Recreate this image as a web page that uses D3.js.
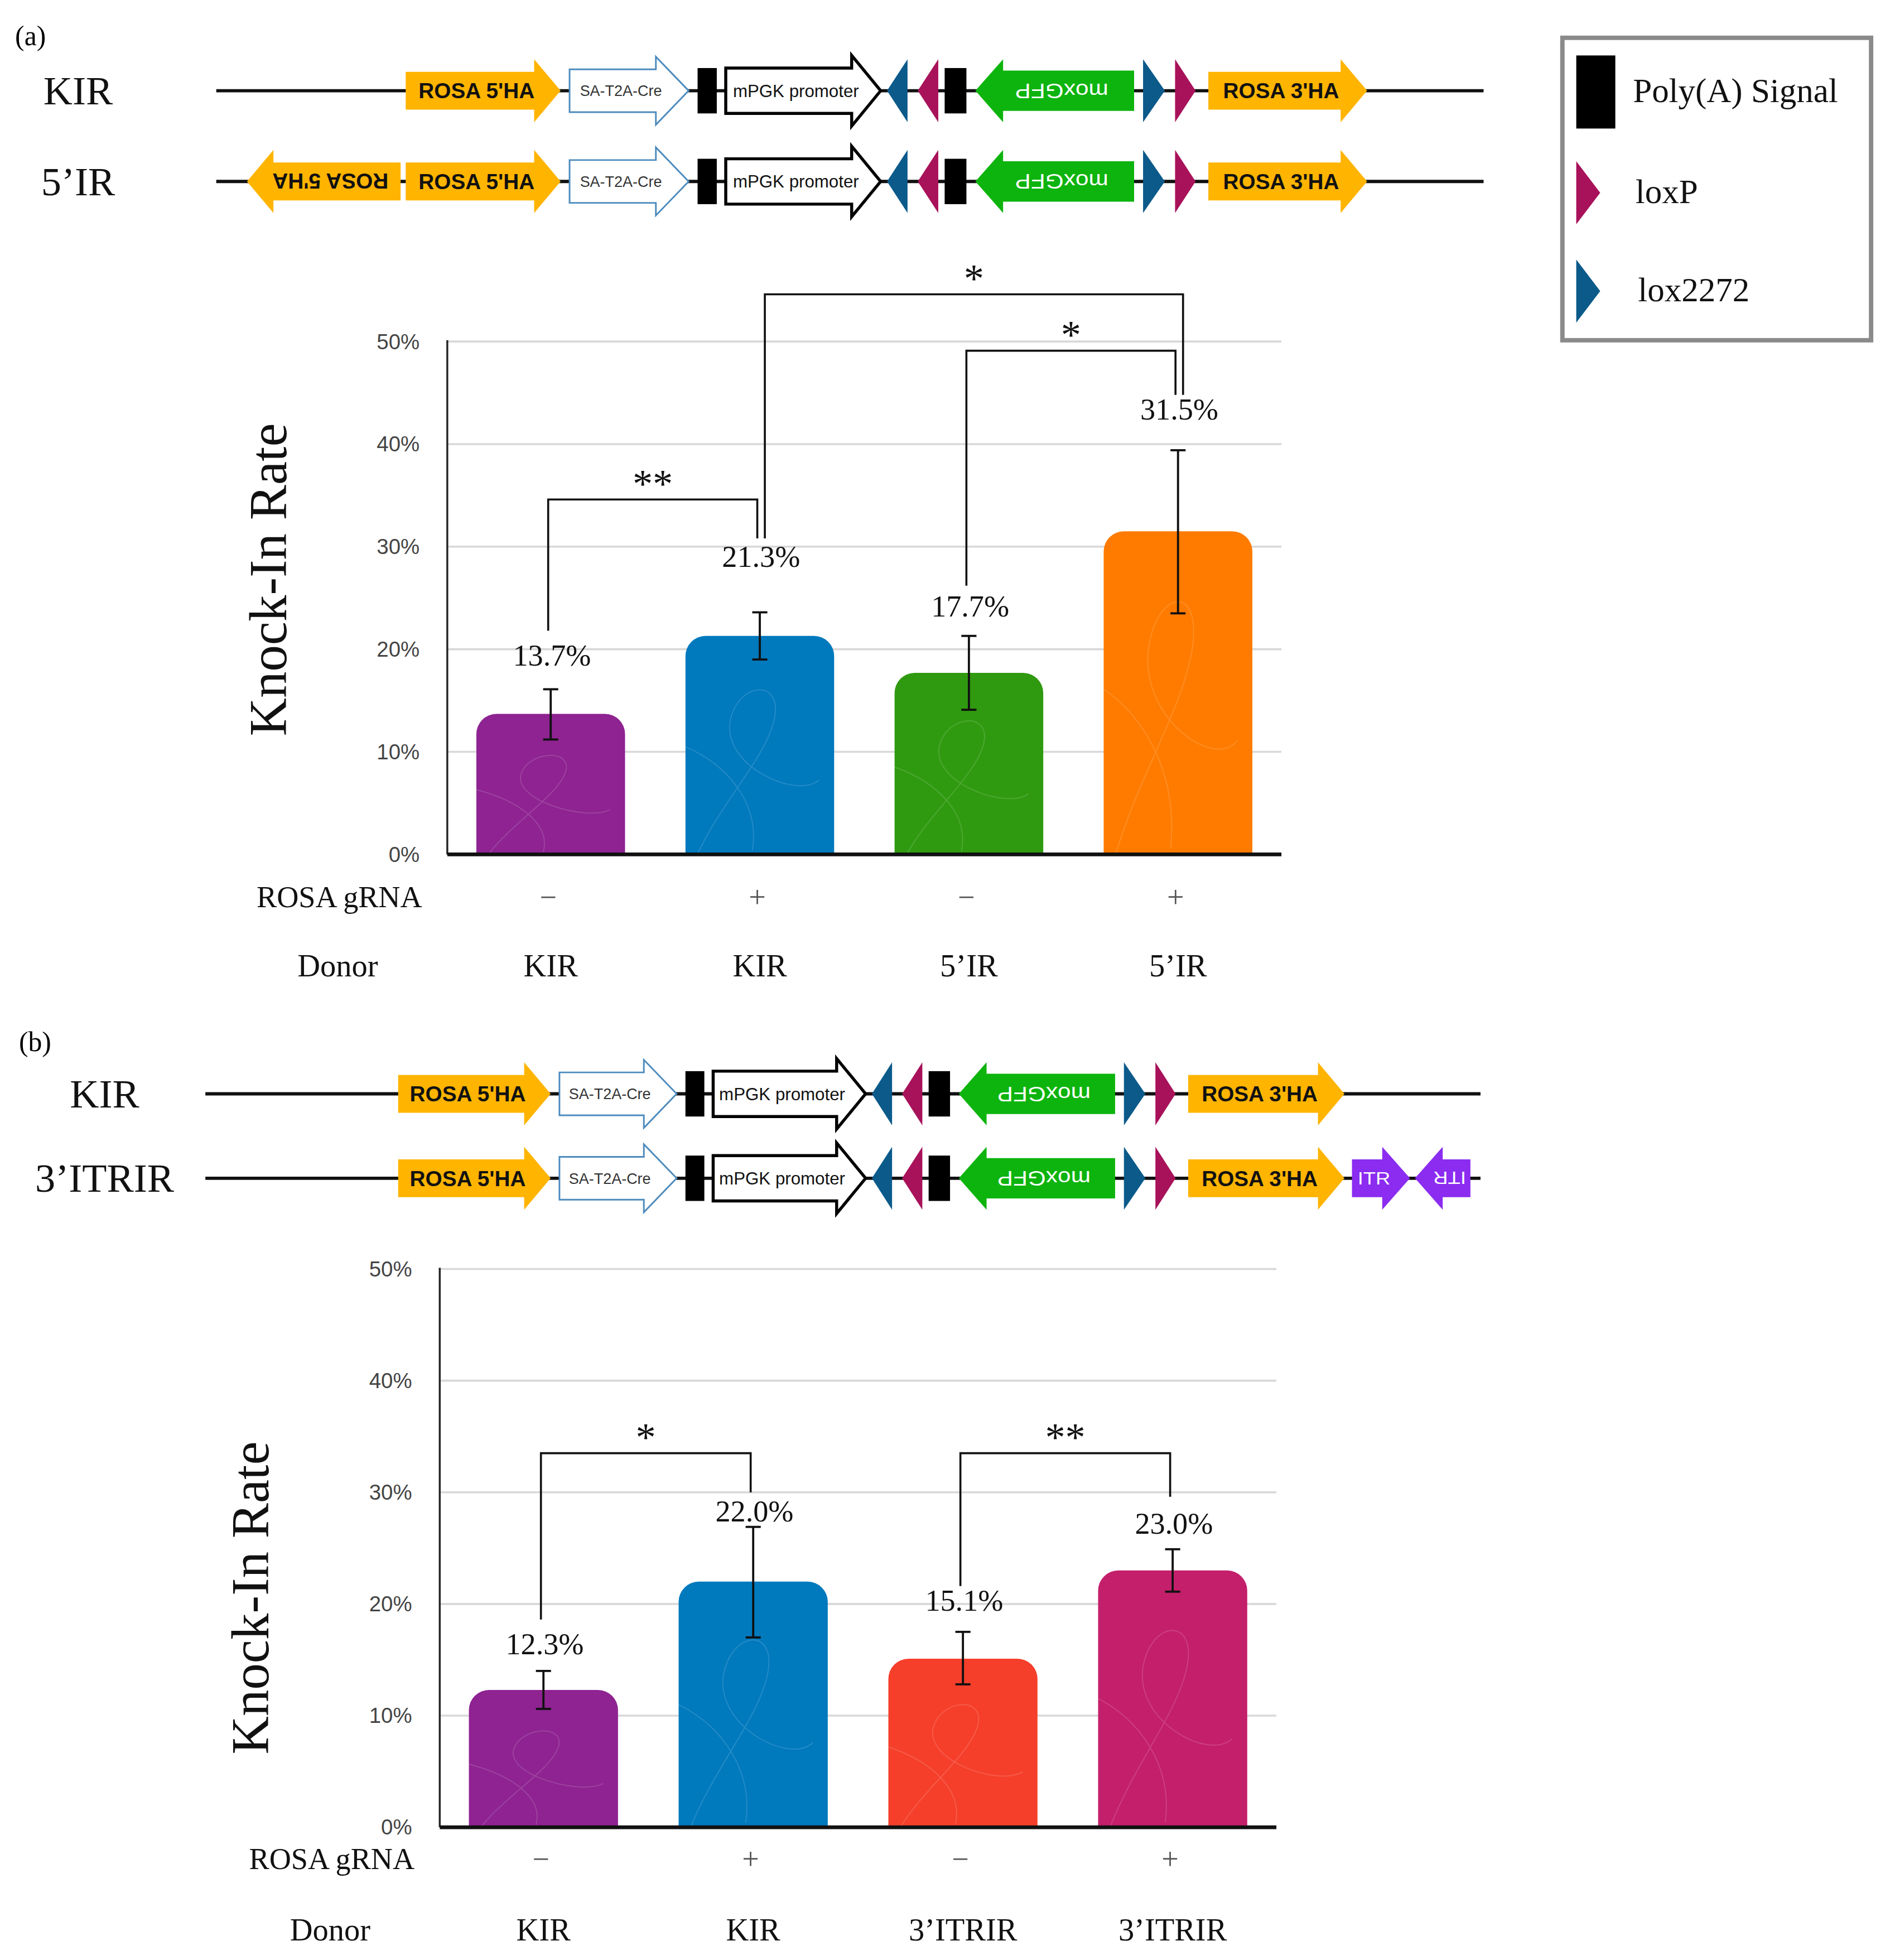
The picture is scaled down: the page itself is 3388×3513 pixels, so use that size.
<!DOCTYPE html>
<html>
<head>
<meta charset="utf-8">
<script src="https://cdn.jsdelivr.net/npm/d3@7"></script>
<style>
  html, body { margin: 0; padding: 0; background: #fff; }
</style>
</head>
<body>
<div id="fig"></div>
<script>
// drawing units: the page is laid out on a 1500-wide grid and scaled up to 3388px
const W = 1500, H = 3513 * 1500 / 3388;

// ---- bar chart data ----
const gRNA = ["−", "+", "−", "+"];
const yTicks = [0, 10, 20, 30, 40, 50];

const donorsA = ["KIR", "KIR", "5’IR", "5’IR"];
const valuesA = [13.7, 21.3, 17.7, 31.5];
const errLowA = [11.2, 19.0, 14.1, 23.5];
const errHighA = [16.1, 23.6, 21.3, 39.4];
const colorsA = ["#8e2391", "#0079bd", "#2f9a10", "#ff7b00"];
const labelLevelA = [19.4, 29.0, 24.2, 43.4];
const bracketsA = [
  {from: 0, to: 1, top: 34.6, left: 21.8, right: 30.8, mark: "**"},
  {from: 1, to: 3, top: 54.6, left: 30.8, right: 44.8, mark: "*"},
  {from: 2, to: 3, top: 49.1, left: 26.2, right: 44.8, mark: "*"}
];

const donorsB = ["KIR", "KIR", "3’ITRIR", "3’ITRIR"];
const valuesB = [12.3, 22.0, 15.1, 23.0];
const errLowB = [10.6, 17.0, 12.8, 21.1];
const errHighB = [14.0, 26.9, 17.5, 24.9];
const colorsB = ["#8e2391", "#0079bd", "#f53f2b", "#c41f6b"];
const labelLevelB = [16.4, 28.3, 20.3, 27.2];
const bracketsB = [
  {from: 0, to: 1, top: 33.5, left: 18.6, right: 30.0, mark: "*"},
  {from: 2, to: 3, top: 33.5, left: 21.6, right: 29.6, mark: "**"}
];

// ---- construct maps (map units) ----
const coreParts = [
  {kind: "ha", label: "ROSA 5'HA", s: 316, e: 437, dir: 1},
  {kind: "sa", label: "SA-T2A-Cre", s: 444, e: 537, dir: 1},
  {kind: "pa", s: 544, e: 559},
  {kind: "pgk", label: "mPGK promoter", s: 566, e: 687, dir: 1},
  {kind: "lox2272", s: 692, e: 708, dir: -1},
  {kind: "loxP", s: 716, e: 732, dir: -1},
  {kind: "pa", s: 737, e: 754},
  {kind: "gfp", label: "moxGFP", s: 761, e: 885, dir: -1},
  {kind: "lox2272", s: 892, e: 909, dir: 1},
  {kind: "loxP", s: 917, e: 933, dir: 1},
  {kind: "ha", label: "ROSA 3'HA", s: 943, e: 1067, dir: 1}
];
const inverted5HA = {kind: "ha", label: "ROSA 5'HA", s: 192, e: 312, dir: -1};
const itrPair = [
  {kind: "itr", label: "ITR", s: 1073, e: 1119, dir: 1},
  {kind: "itr", label: "ITR", s: 1123, e: 1167, dir: -1}
];
const rowsA = [
  {name: "KIR", parts: coreParts},
  {name: "5’IR", parts: [inverted5HA].concat(coreParts)}
];
const rowsB = [
  {name: "KIR", parts: coreParts},
  {name: "3’ITRIR", parts: coreParts.concat(itrPair)}
];
const legendItems = [
  {kind: "pa", label: "Poly(A) Signal"},
  {kind: "loxP", label: "loxP"},
  {kind: "lox2272", label: "lox2272"}
];

const SERIF = "'Liberation Serif', 'Times New Roman', serif";
const SANS = "'Liberation Sans', Arial, Helvetica, sans-serif";

const kinds = {
  ha: {fill: "#ffb400", bh: 15, hh: 25, head: 21, text: "#111", weight: "bold", size: 17, tw: 92},
  sa: {fill: "#fff", stroke: "#4d8bbd", sw: 1.3, bh: 17, hh: 27, head: 26, text: "#333", size: 12, tw: 65},
  pa: {fill: "#000", bh: 18},
  pgk: {fill: "#fff", stroke: "#000", sw: 2.4, bh: 18, hh: 28, head: 23, text: "#111", size: 13.5, tw: 100},
  lox2272: {fill: "#0b5a8a", hh: 25},
  loxP: {fill: "#a8125a", hh: 25},
  gfp: {fill: "#0db40d", bh: 16, hh: 25, head: 22, text: "#fff", size: 16, tw: 74},
  itr: {fill: "#8b2cf0", bh: 15, hh: 25, head: 22, text: "#fff", size: 14, tw: 26}
};

const svg = d3.select("#fig").append("svg")
  .attr("width", 3388)
  .attr("height", 3513)
  .attr("viewBox", `0 0 ${W} ${H}`)
  .style("display", "block");

svg.append("rect").attr("width", W).attr("height", H).attr("fill", "#fff");

function drawPart(g, p, xMap) {
  const k = kinds[p.kind];
  const s = xMap(p.s), e = xMap(p.e);
  if (p.kind === "pa") {
    g.append("rect").attr("x", s).attr("y", -k.bh).attr("width", e - s).attr("height", 2 * k.bh).attr("fill", k.fill);
    return;
  }
  if (p.kind === "loxP" || p.kind === "lox2272") {
    const pts = p.dir > 0 ? [[s, -k.hh], [e, 0], [s, k.hh]] : [[e, -k.hh], [s, 0], [e, k.hh]];
    g.append("polygon").attr("points", pts.join(" ")).attr("fill", k.fill);
    return;
  }
  let pts;
  if (p.dir > 0) {
    const h = e - k.head;
    pts = [[s, -k.bh], [h, -k.bh], [h, -k.hh], [e, 0], [h, k.hh], [h, k.bh], [s, k.bh]];
  } else {
    const h = s + k.head;
    pts = [[e, -k.bh], [h, -k.bh], [h, -k.hh], [s, 0], [h, k.hh], [h, k.bh], [e, k.bh]];
  }
  g.append("polygon").attr("points", pts.join(" "))
    .attr("fill", k.fill)
    .attr("stroke", k.stroke || "none")
    .attr("stroke-width", k.sw || 0)
    .attr("stroke-linejoin", "miter");
  const cx = (s + e) / 2 - p.dir * k.head * 0.25;
  const t = g.append("text")
    .attr("x", cx).attr("y", 0).attr("dy", "0.36em")
    .attr("text-anchor", "middle")
    .attr("font-family", SANS)
    .attr("font-size", k.size)
    .attr("font-weight", k.weight || "normal")
    .attr("fill", k.text)
    .attr("textLength", k.tw)
    .attr("lengthAdjust", "spacingAndGlyphs")
    .text(p.label);
  if (p.dir < 0) t.attr("transform", `rotate(180,${cx},0)`);
}

function drawConstruct(rows, xMap, rowY, lineSpan, labelX) {
  const g = svg.append("g");
  rows.forEach((row, i) => {
    const rg = g.append("g").attr("transform", `translate(0,${rowY[i]})`);
    rg.append("line")
      .attr("x1", xMap(lineSpan[0])).attr("x2", xMap(lineSpan[1]))
      .attr("stroke", "#111").attr("stroke-width", 2.6);
    rg.append("text")
      .attr("x", labelX).attr("y", 0).attr("dy", "0.34em")
      .attr("text-anchor", "middle")
      .attr("font-family", SERIF).attr("font-size", 32)
      .attr("fill", "#111")
      .text(row.name);
    row.parts.forEach(p => drawPart(rg, p, xMap));
  });
}

// faint decorative strokes inside bars, in unit coordinates of each bar
const scribble = "M0.08,1 C0.25,0.72 0.55,0.5 0.6,0.3 C0.65,0.1 0.35,0.12 0.3,0.32 C0.25,0.55 0.75,0.72 0.9,0.62 M0.0,0.45 C0.3,0.55 0.5,0.75 0.45,0.98";

function topRounded(x, y, w, h, r) {
  r = Math.min(r, h, w / 2);
  return `M${x},${y + h}V${y + r}A${r},${r} 0 0 1 ${x + r},${y}H${x + w - r}A${r},${r} 0 0 1 ${x + w},${y + r}V${y + h}Z`;
}

function drawChart(cfg) {
  const g = svg.append("g");
  const y = d3.scaleLinear().domain([0, 50]).range([cfg.y0, cfg.y50]);
  const x = d3.scaleBand().domain(d3.range(cfg.values.length))
    .range([cfg.x0, cfg.x1]).paddingInner(0.289).paddingOuter(0.139);
  const cxOf = i => x(i) + x.bandwidth() / 2;

  // grid
  g.append("g").selectAll("line").data(yTicks.filter(t => t > 0)).join("line")
    .attr("x1", cfg.x0).attr("x2", cfg.x1)
    .attr("y1", d => y(d)).attr("y2", d => y(d))
    .attr("stroke", "#d8d8d8").attr("stroke-width", 1.6);

  // tick labels
  const ax = g.append("g").attr("transform", `translate(${cfg.x0},0)`)
    .call(d3.axisLeft(y).tickValues(yTicks).tickFormat(d => d + "%").tickSize(0).tickPadding(22));
  ax.select(".domain").remove();
  ax.selectAll("text").attr("font-family", SANS).attr("font-size", 17).attr("fill", "#444");

  // bars
  const bars = g.append("g").selectAll("g").data(cfg.values).join("g");
  bars.append("path")
    .attr("d", (d, i) => topRounded(x(i), y(d), x.bandwidth(), y(0) - y(d), 16))
    .attr("fill", (d, i) => cfg.colors[i]);
  bars.append("path")
    .attr("d", scribble)
    .attr("transform", (d, i) => `translate(${x(i)},${y(d) + 18}) scale(${x.bandwidth()},${y(0) - y(d) - 18})`)
    .attr("fill", "none").attr("stroke", "#fff").attr("stroke-opacity", 0.14)
    .attr("stroke-width", 2).attr("vector-effect", "non-scaling-stroke");

  // axes lines
  g.append("line").attr("x1", cfg.x0).attr("x2", cfg.x0)
    .attr("y1", y(0)).attr("y2", y(50) - 1)
    .attr("stroke", "#222").attr("stroke-width", 1.5);
  g.append("line").attr("x1", cfg.x0).attr("x2", cfg.x1)
    .attr("y1", y(0)).attr("y2", y(0))
    .attr("stroke", "#111").attr("stroke-width", 3);

  // error bars
  const eb = g.append("g").attr("stroke", "#111").attr("stroke-width", 1.7);
  cfg.values.forEach((v, i) => {
    const cx = cxOf(i);
    eb.append("line").attr("x1", cx).attr("x2", cx).attr("y1", y(cfg.lo[i])).attr("y2", y(cfg.hi[i]));
    eb.append("line").attr("x1", cx - 6).attr("x2", cx + 6).attr("y1", y(cfg.lo[i])).attr("y2", y(cfg.lo[i]));
    eb.append("line").attr("x1", cx - 6).attr("x2", cx + 6).attr("y1", y(cfg.hi[i])).attr("y2", y(cfg.hi[i]));
  });

  // value labels
  g.append("g").selectAll("text").data(cfg.values).join("text")
    .attr("x", (d, i) => cxOf(i) + 1)
    .attr("y", (d, i) => y(cfg.labels[i]) + 8)
    .attr("text-anchor", "middle")
    .attr("font-family", SERIF).attr("font-size", 24).attr("fill", "#111")
    .text(d => d.toFixed(1) + "%");

  // significance brackets
  const maxTop = d3.max(cfg.brackets, b => b.top);
  const bg = g.append("g");
  cfg.brackets.forEach(b => {
    const legDx = i => {
      const shared = cfg.brackets.some(o => o !== b && (o.from === i || o.to === i));
      return shared ? (b.top === maxTop ? 4 : -2) : -2;
    };
    const xl = cxOf(b.from) + legDx(b.from), xr = cxOf(b.to) + legDx(b.to);
    bg.append("path")
      .attr("d", `M${xl},${y(b.left)}V${y(b.top)}H${xr}V${y(b.right)}`)
      .attr("fill", "none").attr("stroke", "#111").attr("stroke-width", 1.6);
    bg.append("text")
      .attr("x", (xl + xr) / 2).attr("y", y(b.top) - 2)
      .attr("text-anchor", "middle")
      .attr("font-family", SERIF).attr("font-size", 32).attr("fill", "#111")
      .text(b.mark);
  });

  // y title
  g.append("text")
    .attr("transform", `translate(${cfg.titleX},${cfg.titleY}) rotate(-90)`)
    .attr("text-anchor", "middle")
    .attr("font-family", SERIF).attr("font-size", 42).attr("fill", "#111")
    .text("Knock-In Rate");

  // category rows
  g.append("text").attr("x", cfg.x0 - 20).attr("y", cfg.gRow)
    .attr("text-anchor", "end").attr("font-family", SERIF).attr("font-size", 24).attr("fill", "#111")
    .text("ROSA gRNA");
  g.append("g").selectAll("text").data(gRNA).join("text")
    .attr("x", (d, i) => cxOf(i) - 2).attr("y", cfg.gRow)
    .attr("text-anchor", "middle").attr("font-family", SERIF).attr("font-size", 24).attr("fill", "#555")
    .text(d => d);
  g.append("text").attr("x", cfg.x0 - 55).attr("y", cfg.dRow)
    .attr("text-anchor", "end").attr("font-family", SERIF).attr("font-size", 25).attr("fill", "#111")
    .text("Donor");
  g.append("g").selectAll("text").data(cfg.donors).join("text")
    .attr("x", (d, i) => cxOf(i)).attr("y", cfg.dRow)
    .attr("text-anchor", "middle").attr("font-family", SERIF).attr("font-size", 25).attr("fill", "#111")
    .text(d => d);
}

// ---- panel labels ----
svg.append("text").attr("x", 12).attr("y", 36).attr("font-family", SERIF).attr("font-size", 22).text("(a)");
svg.append("text").attr("x", 15).attr("y", 834).attr("font-family", SERIF).attr("font-size", 22).text("(b)");

// ---- construct diagrams ----
const mapA = d3.scaleLinear().domain([316, 1067]).range([322, 1085]);
const mapB = d3.scaleLinear().domain([316, 1067]).range([316, 1067]);
drawConstruct(rowsA, mapA, [72, 144], [168, 1158], 62);
drawConstruct(rowsB, mapB, [868, 935], [163, 1175], 83);

// ---- legend ----
const lg = svg.append("g");
lg.append("rect").attr("x", 1240).attr("y", 30).attr("width", 245).attr("height", 240)
  .attr("fill", "#fff").attr("stroke", "#8a8a8a").attr("stroke-width", 3.5);
const legY = [73, 153, 231];
legendItems.forEach((it, i) => {
  const k = kinds[it.kind];
  const cy = legY[i];
  if (it.kind === "pa") {
    lg.append("rect").attr("x", 1251).attr("y", cy - 29).attr("width", 31).attr("height", 58).attr("fill", k.fill);
  } else {
    lg.append("polygon").attr("points", [[1251, cy - 25], [1270, cy], [1251, cy + 25]].join(" ")).attr("fill", k.fill);
  }
  lg.append("text").attr("x", i === 0 ? 1296 : (i === 1 ? 1298 : 1300)).attr("y", cy + 8)
    .attr("font-family", SERIF).attr("font-size", 27).attr("fill", "#111")
    .text(it.label);
});

// ---- bar charts ----
drawChart({
  values: valuesA, lo: errLowA, hi: errHighA, colors: colorsA, labels: labelLevelA,
  brackets: bracketsA, donors: donorsA,
  x0: 355, x1: 1017, y0: 678, y50: 271, titleX: 227, titleY: 460, gRow: 720, dRow: 775
});
drawChart({
  values: valuesB, lo: errLowB, hi: errHighB, colors: colorsB, labels: labelLevelB,
  brackets: bracketsB, donors: donorsB,
  x0: 349, x1: 1013, y0: 1450, y50: 1007, titleX: 213, titleY: 1268, gRow: 1483, dRow: 1540
});
</script>
</body>
</html>
